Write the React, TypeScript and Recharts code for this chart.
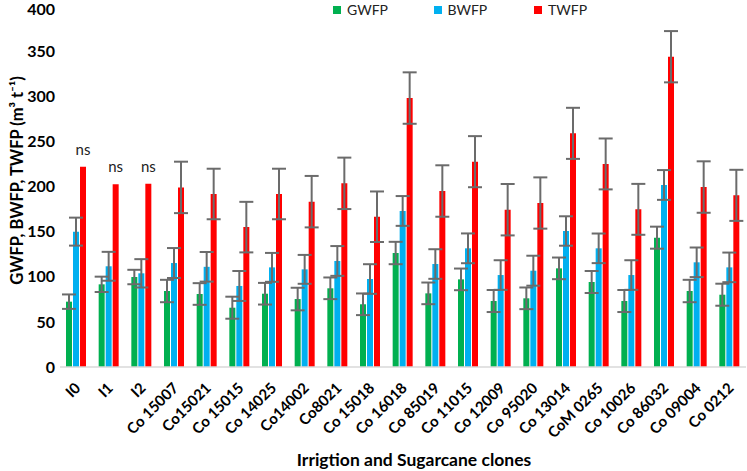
import { BarChart, Bar, XAxis, YAxis, ErrorBar, Legend, LabelList } from 'recharts';

const clones = [
  'I0', 'I1', 'I2', 'Co 15007', 'Co15021', 'Co 15015', 'Co 14025', 'Co14002', 'Co8021', 'Co 15018',
  'Co 16018', 'Co 85019', 'Co 11015', 'Co 12009', 'Co 95020', 'Co 13014', 'CoM 0265', 'Co 10026',
  'Co 86032', 'Co 09004', 'Co 0212',
];
const gwfp = [72.4, 91.6, 99.7, 84.2, 80.9, 65.7, 81.2, 75.3, 87.2, 69.5, 126.3, 81.6, 97.1, 73.1, 76.1, 109.3, 94.2, 73.1, 143.3, 84.2, 80.1];
const bwfp = [150, 111.6, 103.8, 115.2, 111, 89.8, 110.4, 108.2, 117.5, 97.5, 172.9, 114.1, 131.5, 101.9, 106.7, 150.7, 131.5, 101.9, 201.7, 116, 110.4];
const twfp = [222, 202.4, 203, 199, 191.7, 155, 191.7, 183.2, 203.5, 166.5, 298, 195, 227.5, 174.3, 181.7, 258.9, 225, 174.7, 343.8, 199.4, 190.2];
const gwfpErr = [8, 8.5, 8, 12.4, 12, 12.2, 12, 12.5, 12, 12, 12.4, 12, 12, 12.2, 12, 12, 12.2, 12.2, 12.2, 12.4, 12.2];
const bwfpErr = [15.5, 16, 15.7, 16.6, 16.4, 16.6, 16, 16, 16.5, 16.4, 16.5, 16.4, 16.5, 16.4, 16.6, 16.3, 16.4, 16.4, 16.5, 16.4, 16.4];
const twfpErr = [0, 0, 0, 28.5, 28, 28, 28, 28.5, 28.5, 28, 28.5, 28.5, 28.3, 28.5, 28.4, 28.3, 28.2, 28.2, 28.4, 28.5, 28.3];
const signif = ['ns', 'ns', 'ns', '', '', '', '', '', '', '', '', '', '', '', '', '', '', '', '', '', ''];
const yTicks = [0, 50, 100, 150, 200, 250, 300, 350, 400];

const FONT = 'Lato, "Open Sans", sans-serif';
const GREEN = '#00b050';
const BLUE = '#00b0f0';
const RED = '#ff0000';
const ERR = '#6b6b6b';

const data = clones.map((name, i) => ({
  name,
  gwfp: gwfp[i],
  bwfp: bwfp[i],
  twfp: twfp[i],
  gErr: gwfpErr[i],
  bErr: bwfpErr[i],
  tErr: twfpErr[i],
  sig: signif[i],
}));

const legendItems = [
  { label: 'GWFP', color: GREEN },
  { label: 'BWFP', color: BLUE },
  { label: 'TWFP', color: RED },
];

function CloneTick({ x, y, payload }: any) {
  const tx = x + 5;
  const ty = y + 14;
  return (
    <text
      x={tx}
      y={ty}
      transform={`rotate(-45, ${tx}, ${ty})`}
      textAnchor="end"
      fontFamily={FONT}
      fontWeight={700}
      fontSize={15}
      fill="#000"
    >
      {payload.value}
    </text>
  );
}

function SigLabel({ x, y, width, value }: any) {
  if (!value) return null;
  return (
    <text x={x + width / 2} y={y - 12} textAnchor="middle" fontFamily={FONT} fontSize={15} fill="#222">
      {value}
    </text>
  );
}

function YTitle({ viewBox }: any) {
  const cx = 23;
  const cy = viewBox.y + viewBox.height / 2 - 6;
  return (
    <text
      x={cx}
      y={cy}
      transform={`rotate(-90, ${cx}, ${cy})`}
      textAnchor="middle"
      fontFamily={FONT}
      fontWeight={700}
      fontSize={16.5}
      fill="#000"
    >
      GWFP, BWFP, TWFP (m³ t⁻¹)
    </text>
  );
}

function XTitle({ viewBox }: any) {
  const cx = viewBox.x + viewBox.width / 2 + 11;
  const cy = viewBox.y + viewBox.height - 5;
  return (
    <text x={cx} y={cy} textAnchor="middle" fontFamily={FONT} fontWeight={700} fontSize={17.5} fill="#000">
      Irrigtion and Sugarcane clones
    </text>
  );
}

function TopLegend() {
  return (
    <div style={{ display: 'flex', fontFamily: FONT, fontSize: 14, color: '#222' }}>
      {legendItems.map((it) => (
        <div key={it.label} style={{ width: 100.5, display: 'flex', alignItems: 'center' }}>
          <span style={{ width: 8, height: 8, background: it.color, marginRight: 6, display: 'inline-block' }} />
          <span>{it.label}</span>
        </div>
      ))}
    </div>
  );
}

export default function App() {
  return (
    <div style={{ position: 'absolute', left: 0, top: 0, background: '#fff' }}>
      <BarChart
        width={747}
        height={471}
        data={data}
        margin={{ top: 6, right: 1, left: 0, bottom: 0 }}
        barSize={6}
        barGap={1}
      >
        <XAxis
          dataKey="name"
          height={104}
          interval={0}
          tickLine={false}
          axisLine={{ stroke: '#d9d9d9', strokeWidth: 1.5 }}
          tick={<CloneTick />}
          label={<XTitle />}
        />
        <YAxis
          width={60}
          domain={[0, 400]}
          ticks={yTicks}
          axisLine={false}
          tickLine={false}
          tick={{ fontFamily: FONT, fontWeight: 700, fontSize: 16, fill: '#000', dx: 3 }}
          label={<YTitle />}
        />
        <Legend
          layout="vertical"
          align="center"
          verticalAlign="middle"
          wrapperStyle={{ top: 1, left: 333, width: 320, height: 18 }}
          content={() => <TopLegend />}
        />
        <Bar dataKey="gwfp" fill={GREEN} isAnimationActive={false}>
          <ErrorBar dataKey="gErr" width={7} stroke={ERR} strokeWidth={2} direction="y" />
        </Bar>
        <Bar dataKey="bwfp" fill={BLUE} isAnimationActive={false}>
          <ErrorBar dataKey="bErr" width={7} stroke={ERR} strokeWidth={2} direction="y" />
        </Bar>
        <Bar dataKey="twfp" fill={RED} isAnimationActive={false}>
          <ErrorBar dataKey="tErr" width={7} stroke={ERR} strokeWidth={2} direction="y" />
          <LabelList dataKey="sig" content={<SigLabel />} />
        </Bar>
      </BarChart>
    </div>
  );
}
